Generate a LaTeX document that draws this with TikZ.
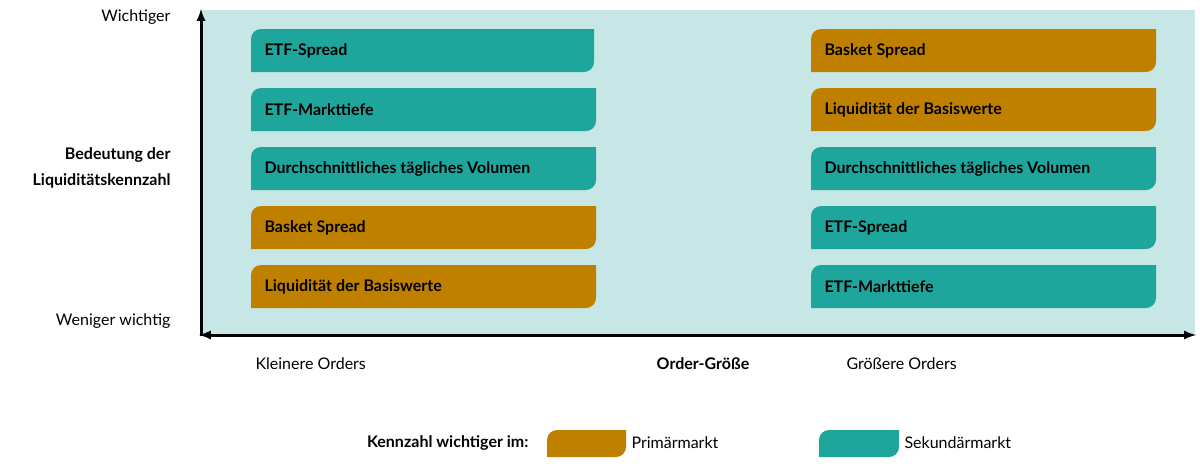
\documentclass[tikz,border=0pt]{standalone}
\usepackage{fontspec}
\setmainfont{Lato}
\definecolor{tl}{HTML}{1EA59C}
\definecolor{gd}{HTML}{BF8000}
\definecolor{bgc}{HTML}{C6E7E6}
\newcommand\bx[5]{% x, ytop, width, color, text
  \fill[#4] (#1,#2+43) [sharp corners]-- (#1+#3-10,#2+43) [rounded corners=10pt] -- (#1+#3,#2+43) [sharp corners]-- (#1+#3,#2)  -- (#1+10,#2) [rounded corners=10pt]-- (#1,#2) [sharp corners]-- cycle;
  \node[anchor=west,font=\bfseries\fontsize{16}{18}\selectfont] at (#1+10,#2+21.5) {#5};}
\begin{document}
\begin{tikzpicture}[x=1pt,y=-1pt,lbl/.style={font=\fontsize{16}{19}\selectfont}]
\useasboundingbox (0,0) rectangle (1200,466);
\fill[bgc] (201,10) rectangle (1195,335);
\coordinate (yb) at (201,336); \coordinate (yt) at (201,9);
\coordinate (xl) at (199,335); \coordinate (xr) at (1196,335);
\draw[line width=3pt,-latex] (yb) -- (yt);
\draw[line width=3pt,latex-latex] (xl) -- (xr);
\bx{251}{29}{343}{tl}{ETF-Spread}
\bx{251}{88}{345}{tl}{ETF-Markttiefe}
\bx{251}{147}{345}{tl}{Durchschnittliches tägliches Volumen}
\bx{251}{206}{345}{gd}{Basket Spread}
\bx{251}{265}{345}{gd}{Liquidität der Basiswerte}
\bx{811}{29}{345}{gd}{Basket Spread}
\bx{811}{88}{345}{gd}{Liquidität der Basiswerte}
\bx{811}{147}{345}{tl}{Durchschnittliches tägliches Volumen}
\bx{811}{206}{345}{tl}{ETF-Spread}
\bx{811}{265}{345}{tl}{ETF-Markttiefe}
\node[lbl,anchor=east] (w) at (174,17) {Wichtiger};
\node[lbl,anchor=east] (ww) at (174,321) {Weniger wichtig};
\node[lbl,anchor=east,align=right,font=\bfseries\fontsize{16}{26}\selectfont] (bd) at (174,168) {Bedeutung der\\Liquiditätskennzahl};
\node[lbl,anchor=west] (ko) at (252,364) {Kleinere Orders};
\node[lbl,font=\bfseries\fontsize{16}{19}\selectfont] (og) at (703,364) {Order-Größe};
\node[lbl,anchor=west] (go) at (843,364) {Größere Orders};
\node[lbl,anchor=east,font=\bfseries\fontsize{16}{19}\selectfont] (kw) at (532,443) {Kennzahl wichtiger im:};
\fill[gd] (547,457) [sharp corners]-- (616,457) [rounded corners=10pt]-- (626,457) [sharp corners]-- (626,430) -- (557,430) [rounded corners=10pt]-- (547,430) [sharp corners]-- cycle;
\node[lbl,anchor=west] (pm) at (628,443) {Primärmarkt};
\fill[tl] (819,457) [sharp corners]-- (889,457) [rounded corners=10pt]-- (899,457) [sharp corners]-- (899,430) -- (829,430) [rounded corners=10pt]-- (819,430) [sharp corners]-- cycle;
\node[lbl,anchor=west] (sm) at (901,443) {Sekundärmarkt};
\end{tikzpicture}
\end{document}
